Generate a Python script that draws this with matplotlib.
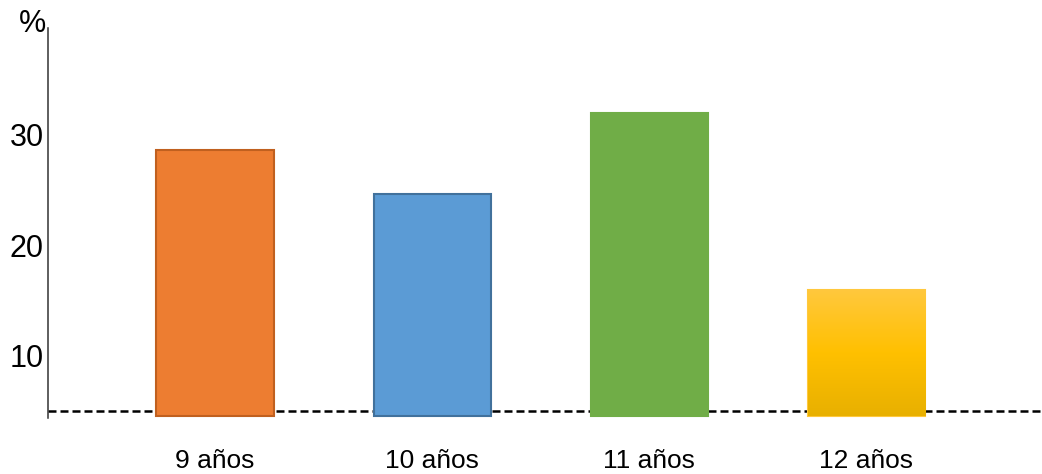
import matplotlib.pyplot as plt
import numpy as np
from matplotlib.colors import LinearSegmentedColormap

plt.rcParams['font.family'] = ['Liberation Sans', 'DejaVu Sans']

# Datos
edades = ['9 años', '10 años', '11 años', '12 años']
porcentajes = [28.6, 24.6, 32.0, 15.9]
colores = ['#ED7D31', '#5B9BD5', '#70AD47', '#FFC000']
bordes = ['#C0601F', '#41719C', '#70AD47', '#FFC83D']
yticks = [10, 20, 30]
base = 4.5
linea_ref = 4.9

fig = plt.figure(figsize=(10.42, 4.74), dpi=100)
ax = fig.add_axes([0.046, 0.118, 0.954, 0.823])

x = np.arange(len(edades))
ancho = 0.54

# línea discontinua de referencia (detrás de las barras)
ax.axhline(linea_ref, color='black', lw=1.8, dashes=(3.2, 1.6), zorder=1)

barras = ax.bar(x, [p - base for p in porcentajes], bottom=base, width=ancho,
                color=colores, edgecolor=bordes, linewidth=1.5, zorder=2)

# degradado en la barra amarilla
b = barras[3]
grad = np.linspace(0, 1, 256).reshape(-1, 1)
cmap = LinearSegmentedColormap.from_list('amarillo', ['#E8B000', '#FFC000', '#FFC83D'])
img = ax.imshow(grad, cmap=cmap, aspect='auto', origin='lower',
                extent=[b.get_x(), b.get_x() + b.get_width(), base, porcentajes[3]],
                zorder=3)
img.set_clip_path(b)

ax.set_xlim(-0.77, 3.81)
ax.set_ylim(4.3, 39.7)
ax.set_yticks(yticks)
ax.set_xticks(x)
ax.set_xticklabels(edades, fontsize=19)
ax.tick_params(axis='y', length=0, labelsize=22, pad=3)
ax.tick_params(axis='x', length=0, pad=22)

for s in ['top', 'right', 'bottom']:
    ax.spines[s].set_visible(False)
ax.spines['left'].set_color('#333333')
ax.spines['left'].set_linewidth(1.1)

fig.text(0.044, 0.95, '%', fontsize=22, ha='right', va='center')

fig.savefig('out.png', dpi=100)
